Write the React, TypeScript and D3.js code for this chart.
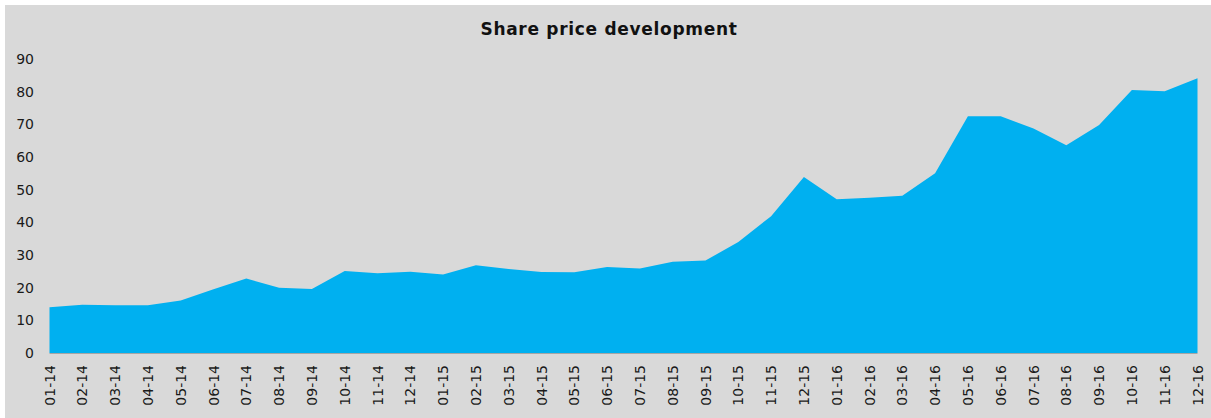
import React, { useRef, useEffect } from 'react';
import * as d3 from 'd3';

// month labels (MM-YY)
const months = [
  '01-14', '02-14', '03-14', '04-14', '05-14', '06-14', '07-14', '08-14', '09-14', '10-14', '11-14', '12-14',
  '01-15', '02-15', '03-15', '04-15', '05-15', '06-15', '07-15', '08-15', '09-15', '10-15', '11-15', '12-15',
  '01-16', '02-16', '03-16', '04-16', '05-16', '06-16', '07-16', '08-16', '09-16', '10-16', '11-16', '12-16',
];

// share price
const prices = [
  14.0, 14.8, 14.6, 14.6, 16.1, 19.5, 22.8, 20.0, 19.6, 25.1, 24.4, 24.9,
  24.0, 26.9, 25.7, 24.8, 24.7, 26.3, 25.9, 27.9, 28.3, 34.0, 41.9, 53.9,
  47.1, 47.5, 48.1, 55.0, 72.5, 72.5, 68.7, 63.6, 69.8, 80.5, 80.1, 84.1,
];

const yTicks = [0, 10, 20, 30, 40, 50, 60, 70, 80, 90];

const W = 1211;
const H = 418;

function App() {
  const chartRef = useRef(null);

  useEffect(() => {
    const svg = d3.select(chartRef.current);
    svg.selectAll('*').remove();

    const font = 'DejaVu Sans, Verdana, sans-serif';

    // background panel
    svg
      .append('rect')
      .attr('x', 5)
      .attr('y', 5)
      .attr('width', W - 5)
      .attr('height', H - 5)
      .attr('fill', '#d9d9d9');

    const xScale = d3
      .scalePoint()
      .domain(months)
      .range([49.5, 1197.5]);

    const yScale = d3.scaleLinear().domain([0, 90]).range([353, 59]);

    const data = months.map((m, i) => ({ m, v: prices[i] }));

    const area = d3
      .area()
      .x((d) => xScale(d.m))
      .y0(yScale(0))
      .y1((d) => yScale(d.v));

    svg.append('path').datum(data).attr('d', area).attr('fill', '#00b0f0');

    // baseline
    svg
      .append('line')
      .attr('x1', xScale(months[0]))
      .attr('x2', xScale(months[months.length - 1]))
      .attr('y1', yScale(0) + 0.5)
      .attr('y2', yScale(0) + 0.5)
      .attr('stroke', '#a6a6a6')
      .attr('stroke-width', 1);

    // y tick labels
    svg
      .append('g')
      .selectAll('text')
      .data(yTicks)
      .enter()
      .append('text')
      .attr('x', 34)
      .attr('y', (d) => yScale(d))
      .attr('dy', '0.36em')
      .attr('text-anchor', 'end')
      .attr('font-family', font)
      .attr('font-size', 14)
      .attr('fill', '#1a1a1a')
      .text((d) => d);

    // x tick labels, rotated
    svg
      .append('g')
      .selectAll('text')
      .data(months)
      .enter()
      .append('text')
      .attr('transform', (d) => `translate(${xScale(d)},365) rotate(-90)`)
      .attr('dy', '0.36em')
      .attr('text-anchor', 'end')
      .attr('font-family', font)
      .attr('font-size', 14)
      .attr('fill', '#1a1a1a')
      .text((d) => d);

    // title
    svg
      .append('text')
      .attr('x', 609)
      .attr('y', 35)
      .attr('text-anchor', 'middle')
      .attr('font-family', font)
      .attr('font-weight', 'bold')
      .attr('font-size', 17)
      .attr('letter-spacing', 0.7)
      .attr('fill', '#111')
      .text('Share price development');
  }, []);

  return (
    <svg
      ref={chartRef}
      width={W}
      height={H}
      style={{ position: 'absolute', left: 0, top: 0, display: 'block', background: '#fff' }}
    ></svg>
  );
}

export default App;
